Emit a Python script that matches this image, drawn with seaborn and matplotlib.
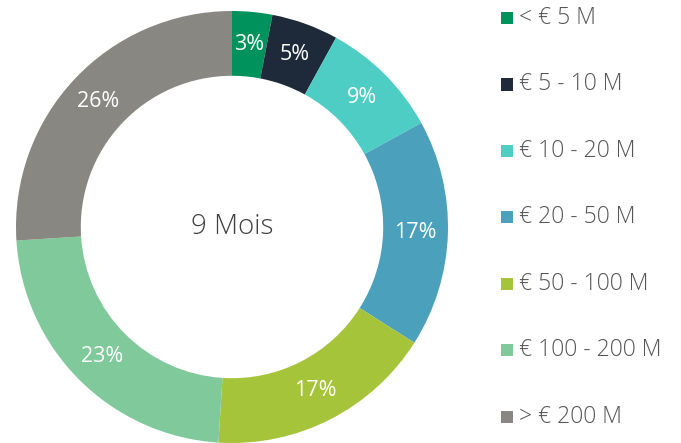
import matplotlib
matplotlib.use("Agg")
import matplotlib.pyplot as plt
import seaborn as sns
from matplotlib.patches import Rectangle

# data
categories = ["< € 5 M", "€ 5 - 10 M", "€ 10 - 20 M", "€ 20 - 50 M",
              "€ 50 - 100 M", "€ 100 - 200 M", "> € 200 M"]
shares = [3, 5, 9, 17, 17, 23, 26]
colors = ["#00925D", "#1E2A3A", "#4ECDC4", "#4BA0BC", "#A6C43A", "#7FC99B", "#898781"]
center_label = "9 Mois"

sns.set_theme(style="white")
plt.rcParams['font.family'] = ['Open Sans', 'DejaVu Sans']
palette = sns.color_palette(colors)

fig = plt.figure(figsize=(6.81, 4.43), dpi=100)
ax = fig.add_axes([16 / 681, 0 / 443, 432 / 681, 432 / 443])

wedges, texts, autotexts = ax.pie(
    shares, colors=palette, startangle=90, counterclock=False,
    autopct="%d%%", pctdistance=0.85,
    wedgeprops=dict(width=0.3, linewidth=0),
    textprops=dict(color="white", fontsize=15.5))
ax.set_xlim(-1, 1)
ax.set_ylim(-1, 1)
ax.set_aspect("equal")
ax.text(0, 0, center_label, ha="center", va="center", fontsize=20,
        color="#404040", fontweight="light")

# legend drawn by hand
y0, step = 1 - 18 / 443, 66.5 / 443
for i, (lab, col) in enumerate(zip(categories, palette)):
    y = y0 - i * step
    fig.add_artist(Rectangle((501 / 681, y - 6 / 443), 12 / 681, 12 / 443,
                             transform=fig.transFigure, color=col, lw=0))
    fig.text(519 / 681, y, lab, ha="left", va="center", fontsize=16.5,
             color="#555555", fontweight="light")

fig.savefig("out.png", dpi=100)
